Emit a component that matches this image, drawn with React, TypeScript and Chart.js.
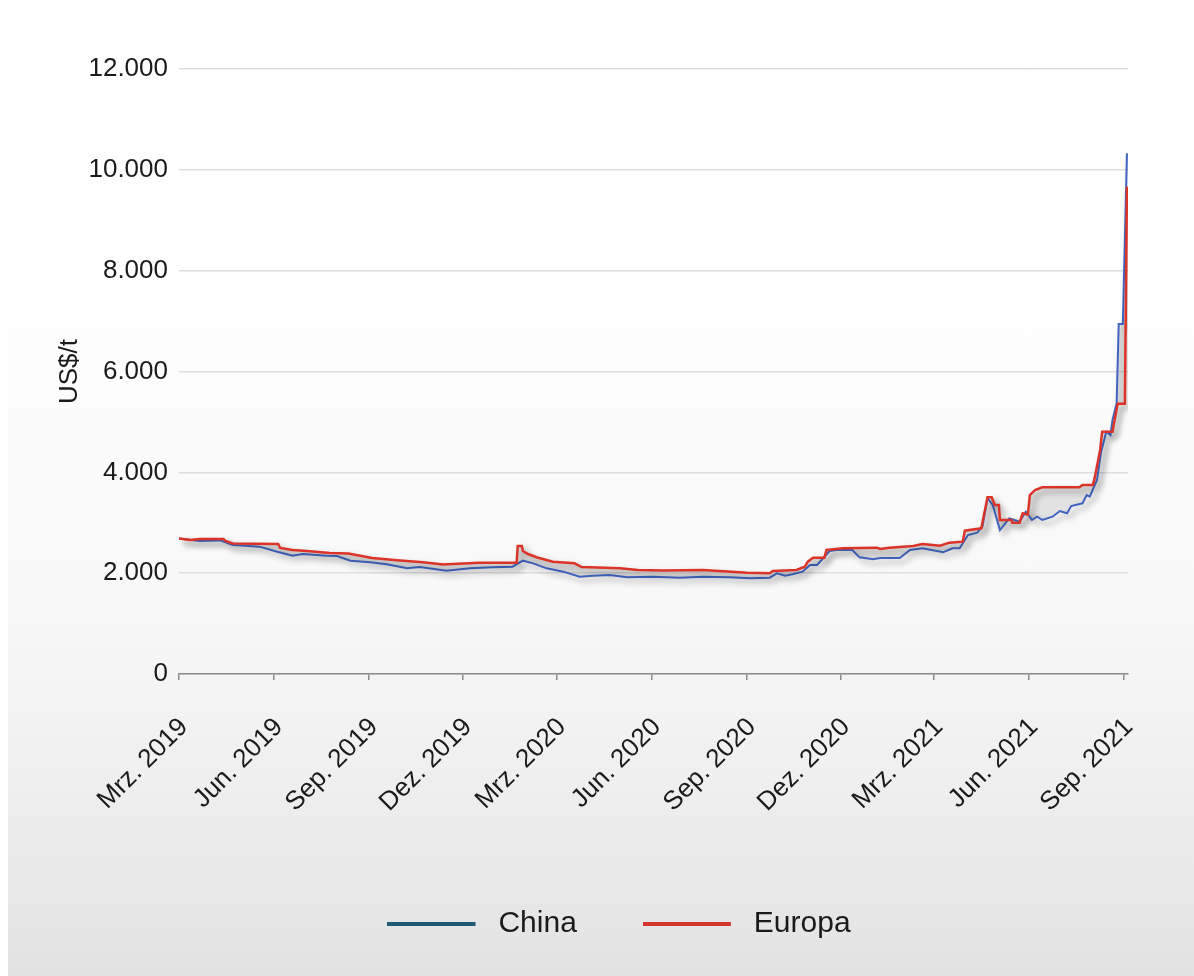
import React, { useEffect, useRef } from "react";
import { Chart, registerables } from "chart.js";

Chart.register(...registerables);

// ---------- data ----------
const tickDates = [
  "2019-03-01", "2019-06-01", "2019-09-01", "2019-12-01",
  "2020-03-01", "2020-06-01", "2020-09-01", "2020-12-01",
  "2021-03-01", "2021-06-01", "2021-09-01",
];
const tickLabels = [
  "Mrz. 2019", "Jun. 2019", "Sep. 2019", "Dez. 2019",
  "Mrz. 2020", "Jun. 2020", "Sep. 2020", "Dez. 2020",
  "Mrz. 2021", "Jun. 2021", "Sep. 2021",
];

const chinaDates = [
  "2019-03-01", "2019-03-21", "2019-04-10", "2019-04-22", "2019-05-18", "2019-06-04",
  "2019-06-19", "2019-06-29", "2019-07-22", "2019-08-01", "2019-08-14", "2019-09-02",
  "2019-09-18", "2019-10-08", "2019-10-20", "2019-11-15", "2019-12-08", "2019-12-30",
  "2020-01-18", "2020-01-28", "2020-02-07", "2020-02-20", "2020-03-07", "2020-03-23",
  "2020-04-05", "2020-04-21", "2020-05-08", "2020-06-02", "2020-06-28", "2020-07-20",
  "2020-08-15", "2020-09-04", "2020-09-23", "2020-09-30", "2020-10-08", "2020-10-15",
  "2020-10-25", "2020-11-01", "2020-11-08", "2020-11-20", "2020-11-27", "2020-12-12",
  "2020-12-19", "2021-01-01", "2021-01-08", "2021-01-27", "2021-02-06", "2021-02-18",
  "2021-03-10", "2021-03-19", "2021-03-26", "2021-04-03", "2021-04-12", "2021-04-17",
  "2021-04-22", "2021-04-27", "2021-05-04", "2021-05-13", "2021-05-18", "2021-05-23",
  "2021-05-29", "2021-06-04", "2021-06-09", "2021-06-14", "2021-06-24", "2021-07-01",
  "2021-07-08", "2021-07-12", "2021-07-23", "2021-07-27", "2021-07-30", "2021-08-06",
  "2021-08-10", "2021-08-15", "2021-08-19", "2021-08-21", "2021-08-25", "2021-08-27",
  "2021-08-31", "2021-09-04",
];
const chinaValues = [
  2690, 2640, 2650, 2560, 2526, 2426,
  2347, 2380, 2347, 2340, 2248, 2215,
  2175, 2096, 2120, 2050, 2096, 2116,
  2129, 2248, 2195, 2096, 2030, 1930,
  1950, 1964, 1917, 1930, 1910, 1930,
  1917, 1897, 1910, 1997, 1950, 1977,
  2030, 2162, 2162, 2440, 2460, 2460,
  2314, 2274, 2300, 2300, 2460, 2493,
  2414, 2493, 2493, 2757, 2803, 2922,
  3485, 3352, 2856, 3088, 3055, 3021,
  3219, 3055, 3120, 3055, 3120, 3233,
  3187, 3332, 3386, 3550, 3517, 3848,
  4409, 4806, 4740, 5038, 5369, 6942,
  6942, 10330,
];

const europaDates = [
  "2019-03-01", "2019-03-12", "2019-03-21", "2019-04-13", "2019-04-15", "2019-04-22",
  "2019-06-05", "2019-06-07", "2019-06-19", "2019-07-03", "2019-07-25", "2019-08-12",
  "2019-09-04", "2019-09-28", "2019-10-23", "2019-11-12", "2019-11-26", "2019-12-17",
  "2020-01-22", "2020-01-23", "2020-01-27", "2020-01-28", "2020-02-02", "2020-02-11",
  "2020-02-26", "2020-03-18", "2020-03-25", "2020-05-01", "2020-05-18", "2020-06-12",
  "2020-07-20", "2020-08-13", "2020-09-01", "2020-09-23", "2020-09-26", "2020-10-19",
  "2020-10-27", "2020-10-30", "2020-11-04", "2020-11-15", "2020-11-17", "2020-12-03",
  "2021-01-05", "2021-01-08", "2021-01-17", "2021-02-09", "2021-02-18", "2021-03-07",
  "2021-03-16", "2021-03-29", "2021-03-31", "2021-04-16", "2021-04-17", "2021-04-22",
  "2021-04-26", "2021-04-29", "2021-05-03", "2021-05-04", "2021-05-15", "2021-05-16",
  "2021-05-23", "2021-05-26", "2021-05-31", "2021-06-02", "2021-06-07", "2021-06-14",
  "2021-07-20", "2021-07-23", "2021-08-02", "2021-08-04", "2021-08-09", "2021-08-11",
  "2021-08-21", "2021-08-26", "2021-09-02", "2021-09-04",
];
const europaValues = [
  2690, 2660, 2680, 2680, 2640, 2590,
  2580, 2500, 2460, 2440, 2400, 2390,
  2300, 2255, 2215, 2170, 2185, 2208,
  2208, 2540, 2540, 2440, 2380, 2310,
  2228, 2195, 2120, 2096, 2065, 2055,
  2065, 2035, 2010, 1997, 2043, 2063,
  2129, 2228, 2307, 2307, 2460, 2493,
  2506, 2480, 2506, 2540, 2580, 2545,
  2605, 2625, 2843, 2889, 3001, 3505,
  3505, 3352, 3352, 3055, 3055, 3001,
  3001, 3187, 3160, 3550, 3650, 3703,
  3703, 3749, 3749, 3914, 4443, 4806,
  4806, 5360, 5360, 9666,
];

const seriesNames = ["China", "Europa"];
const lineColors = ["#4064c0", "#dc3328"];
const legendColors = ["#1f5a78", "#d3342c"];

// ---------- helpers ----------
const START = Date.UTC(2019, 2, 1);
const toDay = (s: string) => {
  const [y, m, d] = s.split("-").map(Number);
  return (Date.UTC(y, m - 1, d) - START) / 86400000;
};
const fmt = (v: number) => String(v).replace(/\B(?=(\d{3})+(?!\d))/g, ".");
const FONT = "'Liberation Sans', Arial, Helvetica, sans-serif";

function legendLine(color: string): HTMLCanvasElement {
  const c = document.createElement("canvas");
  c.width = 96;
  c.height = 4;
  const g = c.getContext("2d")!;
  g.fillStyle = color;
  g.fillRect(0, 0, 88, 4);
  return c;
}

export default function App() {
  const ref = useRef<HTMLCanvasElement | null>(null);

  useEffect(() => {
    if (!ref.current) return;

    const shadowPlugin = {
      id: "lineShadow",
      beforeDatasetDraw(chart: any) {
        const ctx = chart.ctx;
        ctx.save();
        ctx.shadowColor = "rgba(0,0,0,0.38)";
        ctx.shadowBlur = 6;
        ctx.shadowOffsetX = 4;
        ctx.shadowOffsetY = 4;
      },
      afterDatasetDraw(chart: any) {
        chart.ctx.restore();
      },
    };

    const legendShift = {
      id: "legendShift",
      afterLayout(chart: any) {
        const lg = chart.legend;
        if (lg) {
          lg.left += 31;
          lg.right += 31;
        }
      },
    };

    const chart = new Chart(ref.current, {
      type: "line",
      data: {
        datasets: [
          {
            label: seriesNames[0],
            data: chinaDates.map((d, i) => ({ x: toDay(d), y: chinaValues[i] })),
            borderColor: lineColors[0],
            backgroundColor: "rgba(140,140,140,0.22)",
            borderWidth: 2,
            pointRadius: 0,
            tension: 0,
            fill: "+1",
            order: 2,
          },
          {
            label: seriesNames[1],
            data: europaDates.map((d, i) => ({ x: toDay(d), y: europaValues[i] })),
            borderColor: lineColors[1],
            backgroundColor: lineColors[1],
            borderWidth: 2.5,
            pointRadius: 0,
            tension: 0,
            fill: false,
            order: 1,
          },
        ],
      },
      options: {
        responsive: false,
        animation: false,
        layout: { padding: { left: 40, right: 66, top: 61, bottom: 27 } },
        scales: {
          x: {
            type: "linear",
            min: 0,
            max: 919,
            afterBuildTicks: (scale: any) => {
              scale.ticks = tickDates.map((d) => ({ value: toDay(d) }));
            },
            afterFit: (scale: any) => {
              scale.height = 169;
            },
            ticks: {
              autoSkip: false,
              maxRotation: 45,
              minRotation: 45,
              padding: 32,
              labelOffset: 5,
              color: "#1a1a1a",
              font: { family: FONT, size: 26 },
              callback: (_v: any, i: number) => tickLabels[i],
            },
            grid: {
              display: true,
              drawOnChartArea: false,
              drawTicks: true,
              tickLength: 6,
              color: "#8a8a8a",
              lineWidth: 1.5,
            },
            border: { display: true, color: "#8a8a8a", width: 1.5 },
          },
          y: {
            type: "linear",
            min: 0,
            max: 12000,
            afterFit: (scale: any) => {
              scale.width = 131;
            },
            ticks: {
              stepSize: 2000,
              padding: 11,
              color: "#1a1a1a",
              font: { family: FONT, size: 26 },
              callback: (v: any) => fmt(Number(v)),
            },
            grid: { color: "#dedede", lineWidth: 1.5, drawTicks: false },
            border: { display: false },
            title: {
              display: true,
              text: "US$/t",
              color: "#1a1a1a",
              font: { family: FONT, size: 26 },
              padding: { top: 6, bottom: 0 },
            },
          },
        },
        plugins: {
          filler: { drawTime: "beforeDatasetsDraw" },
          tooltip: { enabled: false },
          legend: {
            display: true,
            position: "bottom",
            labels: {
              usePointStyle: true,
              pointStyleWidth: 96,
              boxHeight: 4,
              padding: 66,
              color: "#1a1a1a",
              font: { family: FONT, size: 30 },
              generateLabels: () =>
                seriesNames.map((name, i) => ({
                  text: name,
                  fillStyle: legendColors[i],
                  strokeStyle: legendColors[i],
                  lineWidth: 0,
                  pointStyle: legendLine(legendColors[i]),
                  hidden: false,
                  datasetIndex: i,
                  fontColor: "#1a1a1a",
                })),
            },
          },
        },
      } as any,
      plugins: [shadowPlugin, legendShift],
    });

    return () => chart.destroy();
  }, []);

  return (
    <div
      style={{
        position: "fixed",
        left: 8,
        top: 8,
        width: 1186,
        height: 968,
        background:
          "linear-gradient(to bottom, #ffffff 0%, #fefefe 30%, #f8f8f8 62%, #efefef 80%, #e2e2e2 100%)",
      }}
    >
      <canvas ref={ref} width={1186} height={968} style={{ display: "block" }} />
    </div>
  );
}
